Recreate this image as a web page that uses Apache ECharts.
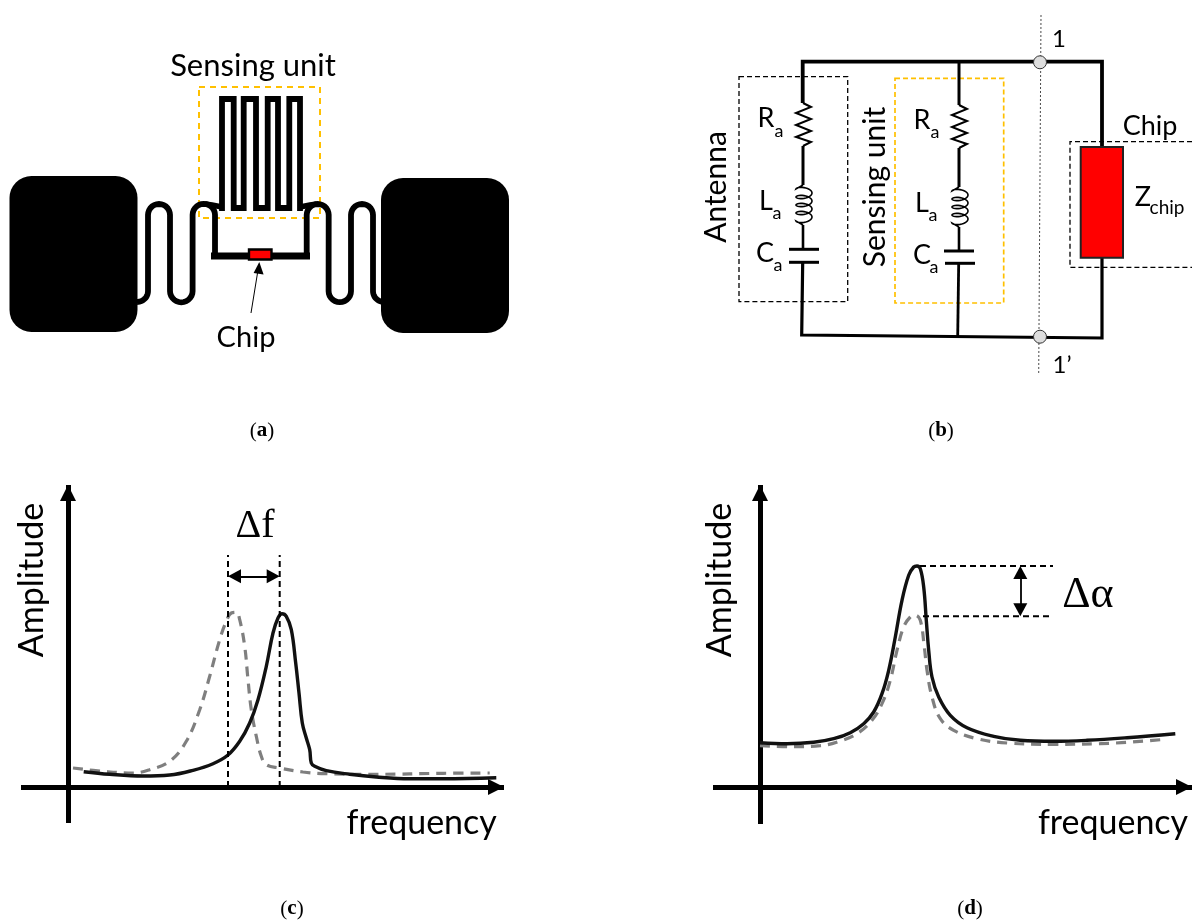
<!DOCTYPE html>
<html><head><meta charset="utf-8">
<style>html,body{margin:0;padding:0;background:#fff}#c{width:1192px;height:922px}</style>
<script src="https://cdn.jsdelivr.net/npm/echarts@6/dist/echarts.min.js"></script>
</head><body><div id="c"></div>
<script>
// ---------- panel (c) values ----------
const cSolid = [[15.7,15.3],[41.7,12.7],[75,11],[101.7,12],[125,16.7],[145,23.3],[160,32],[171.7,45.7],[181.7,64],[190,87.3],[198.3,120.7],[205,154],[210,169],[214,173.3],[218.3,170.7],[223.3,157.3],[227.7,124],[231,94],[234.3,64],[238.3,49],[241.7,37.3],[243.3,24],[246.7,20.7],[258.3,16.3],[281.7,12.7],[308.3,10],[341.7,8.3],[375,8.3],[428.3,9.3]];
const cDashed = [[5,19],[35,15.7],[65,14],[81.7,17.3],[101.7,25.7],[118.3,45.7],[131.7,77.3],[141.7,110.7],[151.7,147.3],[158.3,165.7],[163.3,174],[168.3,174.7],[171.7,167.3],[176.7,140.7],[180,107.3],[183.3,77.3],[188.3,50.7],[193.3,30.7],[198.3,22.3],[211.7,19],[235,15],[258.3,13.3],[308.3,12.7],[375,13.7],[421.7,14]];
const cGuideA = [[160,0],[160,232]];
const cGuideB = [[211.7,0],[211.7,232]];
const cDelta = [[166.5,210.7],[205.2,210.7]];
// ---------- panel (d) values ----------
const dSolid = [[0,44.3],[27,43.3],[53.7,44.7],[73.7,48.3],[90.3,54.3],[103.7,63.3],[113.7,75],[122,93.3],[128.7,116.7],[135.3,150],[142,186.7],[148.7,211.7],[153.7,220],[157,221],[160.3,218.3],[163.7,200],[166.3,166.7],[168.7,136.7],[172,110],[178.7,90],[190.3,71.7],[207,59.3],[233.7,50.7],[260.3,46.7],[293.7,45.7],[327,46.7],[367,49.3],[415.3,53.3]];
const dDashed = [[0,41.3],[33.7,40.3],[60.3,41.3],[80.3,46],[97,53.3],[112,66.7],[122,83.3],[130.3,106.7],[137,136.7],[143.7,160],[150.3,170],[155.3,171.7],[160.3,166.7],[164.3,140],[167,116.7],[172,90],[180.3,68.3],[193.7,56.7],[217,48.3],[247,44],[293.7,42.7],[340.3,43.3],[405.3,47.7]];
const dGuideA = [[160,221],[293,221]];
const dGuideB = [[163,170.7],[293,170.7]];
const dDelta = [[260.3,214.5],[260.3,177.2]];

// ---------- schematic shapes (diagram units) ----------
function arc(cx,cy,r,a0,a1){const p=[];const n=14;for(let i=0;i<=n;i++){const a=(a0+(a1-a0)*i/n)*Math.PI/180;p.push([cx+r*Math.cos(a),cy+r*Math.sin(a)]);}return p;}
function coil(cx,y0,y1,n){const p=[[cx,y0-1]];const m=n*28;for(let i=0;i<=m;i++){const t=i/m*n*2*Math.PI-Math.PI/2;const f=i/m;p.push([cx+1+8*Math.sin(t),y0+3+(y1-y0-6)*f-3.4*Math.cos(t)]);}p.push([cx,y1+1]);return p;}
const padLeft=[9.5,176,128,156];
const padRight=[381,178,128,155];
const boxSensorA=[199,87,121,131];
const boxAntenna=[739,76.7,108.7,225];
const boxSensorB=[895,78.3,108.7,224.7];
const chipA=[249,249.5,22.5,10];
const chipB=[1080.7,147,42.3,110.7];
const comb=[[222,211],[222,99],[233.7,99],[233.7,208],[243.7,208],[243.7,99],[256,99],[256,208],[267.7,208],[267.7,99],[278,99],[278,208],[289.3,208],[289.3,99],[300,99],[300,211]];
const meanderL=[...arc(137,291,11,90,0),...arc(159,215,11,180,360),...arc(181.3,291,11.3,180,0),...arc(203.8,215,11.2,180,360),[215,255]];
const meanderR=[[306.7,255],...arc(317.7,215,11,180,360),...arc(339.8,291,11.2,180,0),...arc(362,215,11,180,360),...arc(384,291,11,180,90)];
const stubL=[[205,204],[212,205],[222,207]];
const stubR=[[300,207],[310,205],[317,204]];
const busA=[[211,256],[310,256]];
const pointer=[[251,313],[258,270]];
const pointerHead=[[259.3,262],[253.6,273],[263.6,274.5]];
const wireTop=[[802.7,103],[802.7,61.7],[1102,61.7],[1102,147]];
const wireBottom=[[802.7,262],[801.7,335],[1102,338],[1102,258]];
const wireMidTop=[[959,62],[959,105]];
const wireMidBottom=[[958.7,263],[957.7,336]];
const resA=[[803,103],[811,107],[796,113],[811,119],[796,125],[811,131],[796,137],[811,142],[803,146]];
const resB=resA.map(p=>[p[0]+156,p[1]+2]);
const linkA1=[[803,146],[803,185]];
const linkA2=[[803,225],[803,249]];
const linkB1=[[959,148],[959,187]];
const linkB2=[[959,227],[959,251]];
const coilA=coil(803,186,224,4);
const coilB=coil(959,188,226,4);
const plateA1=[[789,249.3],[819,249.3]], plateA2=[[789,262.3],[819,262.3]];
const plateB1=[[944,251],[974,251]], plateB2=[[945,263.3],[975,263.3]];
const chipBox=[[1192,141.7],[1070,141.7],[1070,267.3],[1192,267.3]];
const portLine=[[1041,15],[1038.7,375]];
const ports=[[1040,62.3],[1040,336.7]];

const BLACK='#000', SANS='Lato', SERIF='Liberation Serif', YEL='#FFC000';
const rects=[
 {r:boxSensorA,stroke:YEL,w:2,dash:[6,5]},
 {r:padLeft,fill:BLACK,cr:22},{r:padRight,fill:BLACK,cr:22},
 {r:boxAntenna,stroke:'#000',w:1.3,dash:[5,3]},
 {r:boxSensorB,stroke:YEL,w:1.7,dash:[5,3]},
 {r:chipA,fill:'#FF0000',stroke:BLACK,w:2.4,top:1},
 {r:chipB,fill:'#FF0000',stroke:'#222',w:2,top:1}
];
const lines=[
 {p:comb,w:5.8},{p:meanderL,w:5.8},{p:meanderR,w:5.8},{p:stubL,w:5.8},{p:stubR,w:5.8},{p:busA,w:7},
 {p:pointer,w:1},
 {p:wireTop,w:3.8},{p:wireBottom,w:3.2},{p:wireMidTop,w:3},{p:wireMidBottom,w:2.8},
 {p:linkA1,w:3},{p:linkA2,w:2.6},{p:linkB1,w:3},{p:linkB2,w:2.6},
 {p:resA,w:2},{p:resB,w:2},{p:coilA,w:1.6},{p:coilB,w:1.6},
 {p:plateA1,w:3},{p:plateA2,w:3},{p:plateB1,w:3},{p:plateB2,w:3},
 {p:chipBox,w:1.3,dash:[5,3],c:'#000'},
 {p:portLine,w:0.9,dash:[2,2],c:'#333'}
];
const labels=[
 ['Sensing unit',253,66,31,0],['Chip',246,338,29,0],
 ['Antenna',716,187,30,90],['Sensing unit',875,187,30,90],
 ['R',766,118,27,0],['a',779,131,18,0],['L',766,201,27,0],['a',777,213,18,0],['C',765,253,27,0],['a',778,265,18,0],
 ['R',922,120,27,0],['a',935,132,18,0],['L',922,203,27,0],['a',933,215,18,0],['C',922,255,27,0],['a',934,267,18,0],
 ['Chip',1150,126.7,27,0],['Z',1143,197.7,27,0],['chip',1167,208,19,0],
 ['1',1059,39,24,0],['1\u2019',1062,365,24,0],
 ['Amplitude',32,580,34,90],['frequency',421.7,823,34,0],
 ['Amplitude',720,580,34,90],['frequency',1113,823,34,0]
];
const symbols=[['\u0394f',255,526,40],['\u0394\u03B1',1088,595,44]];
const captions=[['a',262,431],['b',941,431],['c',292,909],['d',970,909]];

const prims=[];
rects.filter(o=>!o.top).forEach(o=>prims.push({k:'r',...o}));
lines.forEach(o=>prims.push({k:'l',...o}));
prims.push({k:'g',p:pointerHead});
rects.filter(o=>o.top).forEach(o=>prims.push({k:'r',...o}));
ports.forEach(c=>prims.push({k:'c',c}));
labels.forEach(t=>prims.push({k:'t',t}));
symbols.forEach(t=>prims.push({k:'s',t}));
captions.forEach(t=>prims.push({k:'cap',t}));

function renderPrim(params,api){
 const o=prims[params.dataIndex];
 const C=p=>api.coord(p);
 if(o.k==='r'){const a=C([o.r[0],o.r[1]]),b=C([o.r[0]+o.r[2],o.r[1]+o.r[3]]);
  return {type:'rect',shape:{x:a[0],y:a[1],width:b[0]-a[0],height:b[1]-a[1],r:o.cr||0},style:{fill:o.fill||'none',stroke:o.stroke||'none',lineWidth:o.w||0,lineDash:o.dash||null}};}
 if(o.k==='l')return {type:'polyline',shape:{points:o.p.map(C)},style:{fill:'none',stroke:o.c||BLACK,lineWidth:o.w,lineDash:o.dash||null,lineJoin:'miter',miterLimit:8}};
 if(o.k==='g')return {type:'polygon',shape:{points:o.p.map(C)},style:{fill:BLACK}};
 if(o.k==='c'){const a=C(o.c);return {type:'circle',shape:{cx:a[0],cy:a[1],r:6.5},style:{fill:'#DDDDDD',stroke:'#333',lineWidth:1}};}
 if(o.k==='t'){const a=C([o.t[1],o.t[2]]);return {type:'text',x:a[0],y:a[1],rotation:o.t[4]*Math.PI/180,style:{text:o.t[0],fontFamily:SANS,fontSize:o.t[3],fill:'#000',align:'center',verticalAlign:'middle'}};}
 if(o.k==='s'){const a=C([o.t[1],o.t[2]]);return {type:'text',x:a[0],y:a[1],style:{text:o.t[0],fontFamily:SERIF,fontSize:o.t[3],fill:'#000',align:'center',verticalAlign:'middle'}};}
 const a=C([o.t[1],o.t[2]]);
 return {type:'text',x:a[0],y:a[1],style:{text:'({b|'+o.t[0]+'})',fontFamily:SERIF,fontSize:21,fill:'#000',align:'center',verticalAlign:'middle',rich:{b:{fontFamily:SERIF,fontSize:21,fontWeight:'bold',fill:'#000'}}}};
}

const hiddenX={type:'value',show:false,min:0,max:1192};
const hiddenY={type:'value',show:false,min:0,max:922,inverse:true};
function axis(min,max){return {type:'value',min,max,axisLine:{show:true,onZero:true,symbol:['none','triangle'],symbolSize:[16,16],symbolOffset:[0,-8],lineStyle:{color:BLACK,width:5,cap:'butt'}},axisTick:{show:false},axisLabel:{show:false},splitLine:{show:false}};}
function solid(data,i){return {type:'line',xAxisIndex:i,yAxisIndex:i,data,smooth:0.4,showSymbol:false,symbol:'none',z:4,lineStyle:{color:'#111',width:3.4},clip:false};}
function dashed(data,i){return {type:'line',xAxisIndex:i,yAxisIndex:i,data,smooth:0.4,showSymbol:false,symbol:'none',z:3,lineStyle:{color:'#7F7F7F',width:3.2,type:[10,7]},clip:false};}
function guide(data,i){return {type:'line',xAxisIndex:i,yAxisIndex:i,data,showSymbol:false,symbol:'none',z:5,lineStyle:{color:BLACK,width:2,type:[6,4]},clip:false};}
function dbl(pts,i){return {type:'line',xAxisIndex:i,yAxisIndex:i,data:[],z:6,markLine:{silent:true,animation:false,symbol:['triangle','triangle'],symbolSize:[14,13],label:{show:false},lineStyle:{color:BLACK,width:1.8,type:'solid'},data:[[{coord:pts[0]},{coord:pts[1]}]]}};}

const chart=echarts.init(document.getElementById('c'),null,{renderer:'canvas'});
chart.setOption({
 animation:false,backgroundColor:'#fff',
 grid:[
  {left:0,top:0,width:1192,height:922},
  {left:21,top:485,width:483,height:338},
  {left:713,top:485,width:479,height:339}
 ],
 xAxis:[{...hiddenX,gridIndex:0},{...axis(-47,436),gridIndex:1},{...axis(-47,432),gridIndex:2}],
 yAxis:[{...hiddenY,gridIndex:0},{...axis(-36,302),gridIndex:1},{...axis(-37,302),gridIndex:2}],
 series:[
  {type:'custom',xAxisIndex:0,yAxisIndex:0,coordinateSystem:'cartesian2d',renderItem:renderPrim,data:prims.map((_,i)=>[i]),encode:{x:0,y:0},z:2,silent:true,clip:false},
  dashed(cDashed,1),solid(cSolid,1),guide(cGuideA,1),guide(cGuideB,1),dbl(cDelta,1),
  dashed(dDashed,2),solid(dSolid,2),guide(dGuideA,2),guide(dGuideB,2),dbl(dDelta,2)
 ]
});
</script></body></html>
